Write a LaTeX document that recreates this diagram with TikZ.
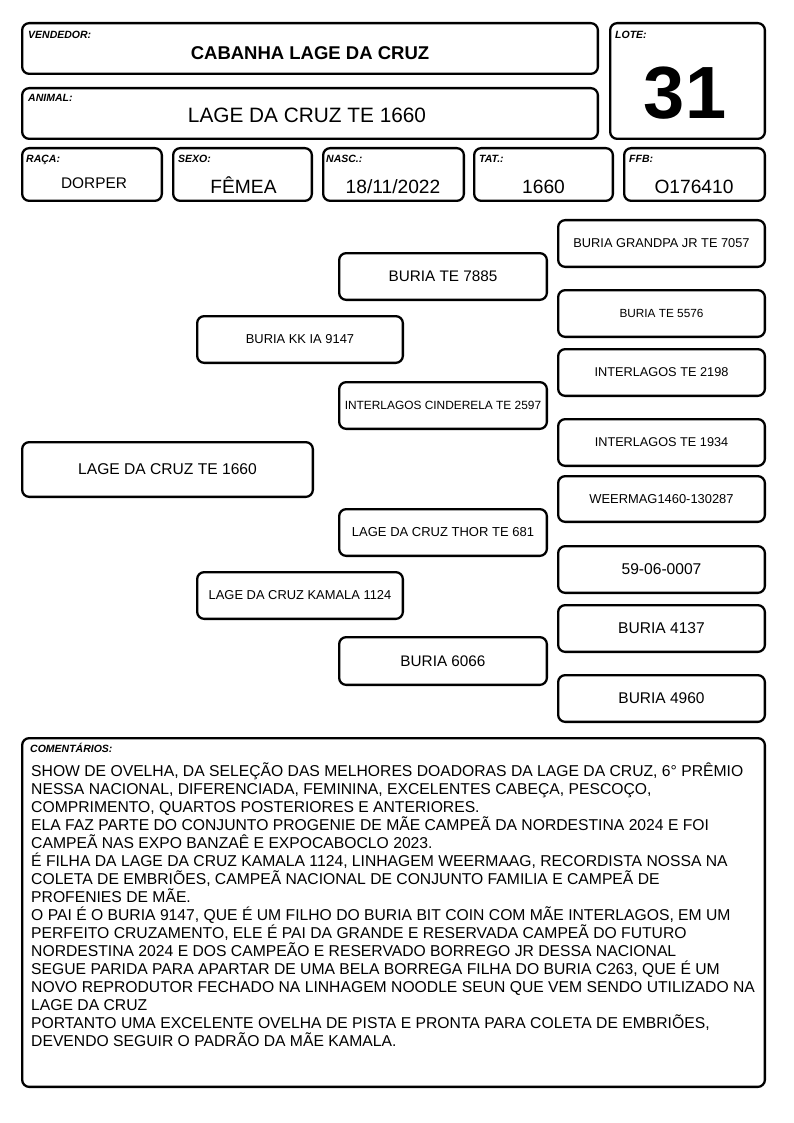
\documentclass[tikz,border=0pt]{standalone}
\usepackage{fontspec}
\setmainfont{Liberation Sans}
\tikzset{
  box/.style={draw, line width=2.3pt, rounded corners=7pt, inner sep=0pt, fill=white},
  lab/.style={font=\fontsize{10.5}{12}\selectfont\bfseries\itshape, anchor=base west, inner sep=0pt},
  val/.style={anchor=base, inner sep=0pt},
  cline/.style={font=\fontsize{15.7}{18}\selectfont, anchor=base west, inner sep=0pt},
}
\newcommand\mkbox[7]{%
  \node[box, font=\fontsize{#6}{#6}\selectfont, minimum width={(#4-#2-2.3)*1pt}, minimum height={(#5-#3-2.3)*1pt}] (#1) at ({(#2+#4)/2},{(#3+#5)/2}) {#7};}
\begin{document}
\begin{tikzpicture}[x=1pt,y=-1pt]
\useasboundingbox[fill=white] (0,0) rectangle (794,1123);
% header boxes
\mkbox{vend}{21}{22}{599}{75}{10}{}
\mkbox{anim}{21}{87}{599}{140}{10}{}
\mkbox{lote}{609}{22}{766}{140}{10}{}
\mkbox{raca}{21}{147}{163}{202}{10}{}
\mkbox{sexo}{172}{147}{313}{202}{10}{}
\mkbox{nasc}{322}{147}{465}{202}{10}{}
\mkbox{tat}{473}{147}{614}{202}{10}{}
\mkbox{ffb}{623}{147}{766}{202}{10}{}
% labels
\node[lab] (lvend) at (28,38.3) {VENDEDOR:};
\node[lab] (lanim) at (28,102) {ANIMAL:};
\node[lab] (llote) at (615,39) {LOTE:};
\node[lab] (lraca) at (26,162.7) {RAÇA:};
\node[lab] (lsexo) at (178,162.7) {SEXO:};
\node[lab] (lnasc) at (326,162.7) {NASC.:};
\node[lab] (ltat) at (479,162.7) {TAT.:};
\node[lab] (lffb) at (629,162.7) {FFB:};
% values
\node[val, font=\fontsize{18.5}{20}\selectfont\bfseries] (vvend) at (310,59.3) {CABANHA LAGE DA CRUZ};
\node[val, font=\fontsize{20.8}{22}\selectfont] (vanim) at (307,122.3) {LAGE DA CRUZ TE 1660};
\node[val, font=\fontsize{74}{76}\selectfont\bfseries] (vlote) at (685,118.3) {31};
\node[val, font=\fontsize{15.4}{17}\selectfont] (vraca) at (94,188.3) {DORPER};
\node[val, font=\fontsize{19.2}{21}\selectfont] (vsexo) at (243.5,193.3) {FÊMEA};
\node[val, font=\fontsize{19.2}{21}\selectfont] (vnasc) at (393,193.3) {18/11/2022};
\node[val, font=\fontsize{19.2}{21}\selectfont] (vtat) at (543.5,193.3) {1660};
\node[val, font=\fontsize{19.2}{21}\selectfont] (vffb) at (694,193.3) {O176410};
% pedigree
\mkbox{root}{21}{441}{314}{498}{15.6}{LAGE DA CRUZ TE 1660}
\mkbox{sire}{196}{315}{404}{364}{12.9}{BURIA KK IA 9147}
\mkbox{dam}{196}{571}{404}{620}{12.9}{LAGE DA CRUZ KAMALA 1124}
\mkbox{ss}{338}{252}{548}{301}{15.3}{BURIA TE 7885}
\mkbox{sd}{338}{381}{548}{430}{11.9}{INTERLAGOS CINDERELA TE 2597}
\mkbox{ds}{338}{508}{548}{557}{13}{LAGE DA CRUZ THOR TE 681}
\mkbox{dd}{338}{636}{548}{686}{15.3}{BURIA 6066}
\mkbox{g1}{557}{219}{766}{268}{12.8}{BURIA GRANDPA JR TE 7057}
\mkbox{g2}{557}{289}{766}{338}{11.8}{BURIA TE 5576}
\mkbox{g3}{557}{348}{766}{397}{12.75}{INTERLAGOS TE 2198}
\mkbox{g4}{557}{418}{766}{467}{12.7}{INTERLAGOS TE 1934}
\mkbox{g5}{557}{475}{766}{523}{12.9}{WEERMAG1460-130287}
\mkbox{g6}{557}{545}{766}{594}{15.6}{59-06-0007}
\mkbox{g7}{557}{604}{766}{653}{15.6}{BURIA 4137}
\mkbox{g8}{557}{674}{766}{723}{15.5}{BURIA 4960}
% comments
\mkbox{com}{21}{737}{766}{1088}{10}{}
\node[lab] (lcom) at (30,752.7) {COMENTÁRIOS:};
\node[cline] (c1) at (31,776.7) {SHOW DE OVELHA, DA SELEÇÃO DAS MELHORES DOADORAS DA LAGE DA CRUZ, 6° PRÊMIO};
\node[cline] (c2) at (31,794.7) {NESSA NACIONAL, DIFERENCIADA, FEMININA, EXCELENTES CABEÇA, PESCOÇO,};
\node[cline] (c3) at (31,812.7) {COMPRIMENTO, QUARTOS POSTERIORES E ANTERIORES.};
\node[cline] (c4) at (31,830.7) {ELA FAZ PARTE DO CONJUNTO PROGENIE DE MÃE CAMPEÃ DA NORDESTINA 2024 E FOI};
\node[cline] (c5) at (31,848.7) {CAMPEÃ NAS EXPO BANZAÊ E EXPOCABOCLO 2023.};
\node[cline] (c6) at (31,866.7) {É FILHA DA LAGE DA CRUZ KAMALA 1124, LINHAGEM WEERMAAG, RECORDISTA NOSSA NA};
\node[cline] (c7) at (31,884.7) {COLETA DE EMBRIÕES, CAMPEÃ NACIONAL DE CONJUNTO FAMILIA E CAMPEÃ DE};
\node[cline] (c8) at (31,902.7) {PROFENIES DE MÃE.};
\node[cline] (c9) at (31,920.7) {O PAI É O BURIA 9147, QUE É UM FILHO DO BURIA BIT COIN COM MÃE INTERLAGOS, EM UM};
\node[cline] (c10) at (31,938.7) {PERFEITO CRUZAMENTO, ELE É PAI DA GRANDE E RESERVADA CAMPEÃ DO FUTURO};
\node[cline] (c11) at (31,956.7) {NORDESTINA 2024 E DOS CAMPEÃO E RESERVADO BORREGO JR DESSA NACIONAL};
\node[cline] (c12) at (31,974.7) {SEGUE PARIDA PARA APARTAR DE UMA BELA BORREGA FILHA DO BURIA C263, QUE É UM};
\node[cline] (c13) at (31,992.7) {NOVO REPRODUTOR FECHADO NA LINHAGEM NOODLE SEUN QUE VEM SENDO UTILIZADO NA};
\node[cline] (c14) at (31,1010.7) {LAGE DA CRUZ};
\node[cline] (c15) at (31,1028.7) {PORTANTO UMA EXCELENTE OVELHA DE PISTA E PRONTA PARA COLETA DE EMBRIÕES,};
\node[cline] (c16) at (31,1046.7) {DEVENDO SEGUIR O PADRÃO DA MÃE KAMALA.};
\end{tikzpicture}
\end{document}
